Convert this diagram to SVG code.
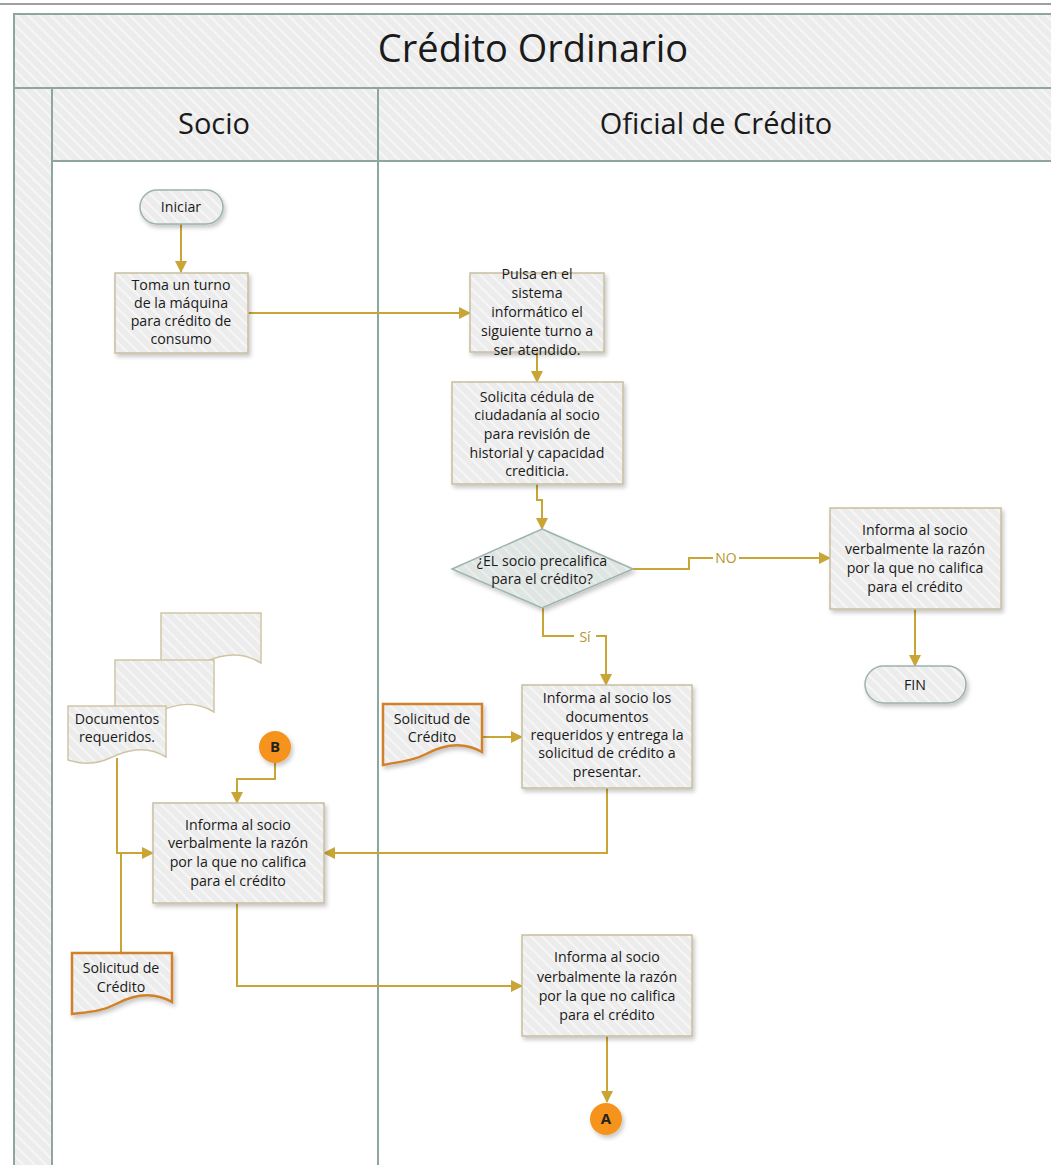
<svg xmlns="http://www.w3.org/2000/svg" width="1051" height="1165" viewBox="0 0 1051 1165">
<defs>
<pattern id="hatch" width="8" height="8" patternUnits="userSpaceOnUse" patternTransform="rotate(-45)">
<rect width="8" height="8" fill="#ececec"/>
<rect width="2" height="8" fill="#f6f6f6"/>
</pattern>
<pattern id="hatchD" width="8" height="8" patternUnits="userSpaceOnUse" patternTransform="rotate(-45)">
<rect width="8" height="8" fill="#dfe5e3"/>
<rect width="2" height="8" fill="#e9eeec"/>
</pattern>
<filter id="sh" x="-20%" y="-20%" width="150%" height="150%">
<feDropShadow dx="2" dy="3" stdDeviation="2" flood-color="#000" flood-opacity="0.22"/>
</filter>
<marker id="arr" markerWidth="12" markerHeight="12" viewBox="0 0 12 12" refX="11" refY="6" orient="auto" markerUnits="userSpaceOnUse">
<path d="M0,0 L12,6 L0,12 Z" fill="#c9a536"/>
</marker>
<style>
.lane{fill:url(#hatch);stroke:#8ea69f;stroke-width:2}
.box{fill:url(#hatch);stroke:#c7bf9f;stroke-width:1.5;filter:url(#sh)}
.pill{fill:url(#hatch);stroke:#9db3ad;stroke-width:1.5;filter:url(#sh)}
.doc{fill:url(#hatch);stroke:#cfc5a4;stroke-width:1.5}
.odoc{fill:url(#hatch);stroke:#d0812c;stroke-width:2.5;filter:url(#sh)}
.t{font-family:"Open Sans","Liberation Sans",sans-serif;font-size:14.2px;fill:#1a1a1a;text-anchor:middle}
.hd{font-family:"Open Sans","Liberation Sans",sans-serif;fill:#1a1a1a;text-anchor:middle}
.c{fill:none;stroke:#c9a536;stroke-width:2}
.lbl{font-family:"Open Sans","Liberation Sans",sans-serif;font-size:14px;fill:#b8942c;text-anchor:middle}
.circ{fill:#f5931c;filter:url(#sh)}
.ct{font-family:"Open Sans","Liberation Sans",sans-serif;font-size:15px;font-weight:bold;fill:#222;text-anchor:middle}
</style>
</defs>
<rect width="1051" height="1165" fill="#ffffff"/>
<line x1="0" y1="4" x2="1051" y2="4" stroke="#a0a0a0" stroke-width="2"/>
<g id="pool">
<rect class="lane" x="14" y="14" width="1045" height="74"/>
<text class="hd" x="533" y="62" font-size="38">Crédito Ordinario</text>
<rect class="lane" x="14" y="88" width="38" height="1090"/>
<rect x="52" y="161" width="1007" height="1017" fill="#ffffff" stroke="#8ea69f" stroke-width="2"/>
<rect class="lane" x="52" y="88" width="326" height="73"/>
<rect class="lane" x="378" y="88" width="681" height="73"/>
<line x1="378" y1="161" x2="378" y2="1178" stroke="#8ea69f" stroke-width="2"/>
<text class="hd" x="214" y="134" font-size="29">Socio</text>
<text class="hd" x="716" y="134" font-size="29">Oficial de Crédito</text>
</g>
<g id="connectors">
<path class="c" d="M181,224 V272" marker-end="url(#arr)"/>
<path class="c" d="M248,313 H470" marker-end="url(#arr)"/>
<path class="c" d="M537,352 V382" marker-end="url(#arr)"/>
<path class="c" d="M537,484 V500 H542 V529" marker-end="url(#arr)"/>
<path class="c" d="M633,569 H689 V558 H830" marker-end="url(#arr)"/>
<path class="c" d="M543,608 V636 H606 V685" marker-end="url(#arr)"/>
<path class="c" d="M915,609 V666" marker-end="url(#arr)"/>
<path class="c" d="M482,737 H522" marker-end="url(#arr)"/>
<path class="c" d="M607,788 V853 H324" marker-end="url(#arr)"/>
<path class="c" d="M275,763 V779 H237 V803" marker-end="url(#arr)"/>
<path class="c" d="M117,758 V853 H153" marker-end="url(#arr)"/>
<path class="c" d="M121,953 V853"/>
<path class="c" d="M237,903 V986 H522" marker-end="url(#arr)"/>
<path class="c" d="M607,1036 V1102" marker-end="url(#arr)"/>
<rect x="713" y="550" width="26" height="16" fill="#ffffff"/>
<text class="lbl" x="726" y="563">NO</text>
<rect x="574" y="626" width="22" height="20" fill="#ffffff"/>
<text class="lbl" x="585" y="642" font-size="17">Sí</text>
</g>
<g id="iniciar">
<rect class="pill" x="140" y="190" width="83" height="34" rx="17"/>
<text class="t" x="181" y="212">Iniciar</text>
</g>
<g id="toma">
<rect class="box" x="115" y="273" width="133" height="80"/>
<text class="t" x="181" y="290">Toma un turno</text>
<text class="t" x="181" y="308">de la máquina</text>
<text class="t" x="181" y="326">para crédito de</text>
<text class="t" x="181" y="344">consumo</text>
</g>
<g id="pulsa">
<rect class="box" x="470" y="273" width="134" height="79"/>
<text class="t" x="537" y="279">Pulsa en el</text>
<text class="t" x="537" y="298">sistema</text>
<text class="t" x="537" y="317">informático el</text>
<text class="t" x="537" y="336">siguiente turno a</text>
<text class="t" x="537" y="355">ser atendido.</text>
</g>
<g id="solicita">
<rect class="box" x="452" y="382" width="171" height="102"/>
<text class="t" x="537" y="402">Solicita cédula de</text>
<text class="t" x="537" y="420">ciudadanía al socio</text>
<text class="t" x="537" y="439">para revisión de</text>
<text class="t" x="537" y="458">historial y capacidad</text>
<text class="t" x="537" y="476">crediticia.</text>
</g>
<g id="decision">
<path d="M542,529 L633,569 L542,608 L452,569 Z" fill="url(#hatchD)" stroke="#9db3ad" stroke-width="1.5" filter="url(#sh)"/>
<text class="t" x="542" y="566">¿EL socio precalifica</text>
<text class="t" x="542" y="584">para el crédito?</text>
</g>
<g id="informa-no">
<rect class="box" x="830" y="508" width="171" height="101"/>
<text class="t" x="915" y="535">Informa al socio</text>
<text class="t" x="915" y="554">verbalmente la razón</text>
<text class="t" x="915" y="573">por la que no califica</text>
<text class="t" x="915" y="592">para el crédito</text>
</g>
<g id="fin">
<rect class="pill" x="865" y="666" width="101" height="37" rx="18.5"/>
<text class="t" x="915" y="690">FIN</text>
</g>
<g id="documentos">
<path class="doc" d="M161,613 H261 V663 C240,650 220,655 205,662 C190,669 175,668 161,663 Z"/>
<path class="doc" d="M115,660 H214 V712 C193,699 173,705 158,712 C143,719 128,718 115,713 Z"/>
<path class="doc" d="M68,706 H166 V757 C145,744 125,751 110,758 C95,765 80,764 68,760 Z"/>
<text class="t" x="117" y="724">Documentos</text>
<text class="t" x="117" y="742">requeridos.</text>
</g>
<g id="solicitud-oficial">
<path class="odoc" d="M383,704 H482 V752 C461,740 441,746 426,754 C411,762 396,762 383,765 Z"/>
<text class="t" x="432" y="724">Solicitud de</text>
<text class="t" x="432" y="742">Crédito</text>
</g>
<g id="informa-docs">
<rect class="box" x="522" y="685" width="170" height="103"/>
<text class="t" x="607" y="703">Informa al socio los</text>
<text class="t" x="607" y="722">documentos</text>
<text class="t" x="607" y="740">requeridos y entrega la</text>
<text class="t" x="607" y="758">solicitud de crédito a</text>
<text class="t" x="607" y="777">presentar.</text>
</g>
<g id="conector-b">
<circle class="circ" cx="275" cy="747" r="16"/>
<text class="ct" x="275" y="752">B</text>
</g>
<g id="informa-socio">
<rect class="box" x="153" y="803" width="171" height="100"/>
<text class="t" x="238" y="830">Informa al socio</text>
<text class="t" x="238" y="848">verbalmente la razón</text>
<text class="t" x="238" y="867">por la que no califica</text>
<text class="t" x="238" y="886">para el crédito</text>
</g>
<g id="solicitud-socio">
<path class="odoc" d="M72,953 H172 V1002 C151,990 131,996 116,1004 C101,1012 86,1012 72,1014 Z"/>
<text class="t" x="121" y="973">Solicitud de</text>
<text class="t" x="121" y="992">Crédito</text>
</g>
<g id="informa-final">
<rect class="box" x="522" y="935" width="170" height="101"/>
<text class="t" x="607" y="962">Informa al socio</text>
<text class="t" x="607" y="982">verbalmente la razón</text>
<text class="t" x="607" y="1001">por la que no califica</text>
<text class="t" x="607" y="1020">para el crédito</text>
</g>
<g id="conector-a">
<circle class="circ" cx="606" cy="1119" r="16"/>
<text class="ct" x="606" y="1124" font-size="12">A</text>
</g>
</svg>
